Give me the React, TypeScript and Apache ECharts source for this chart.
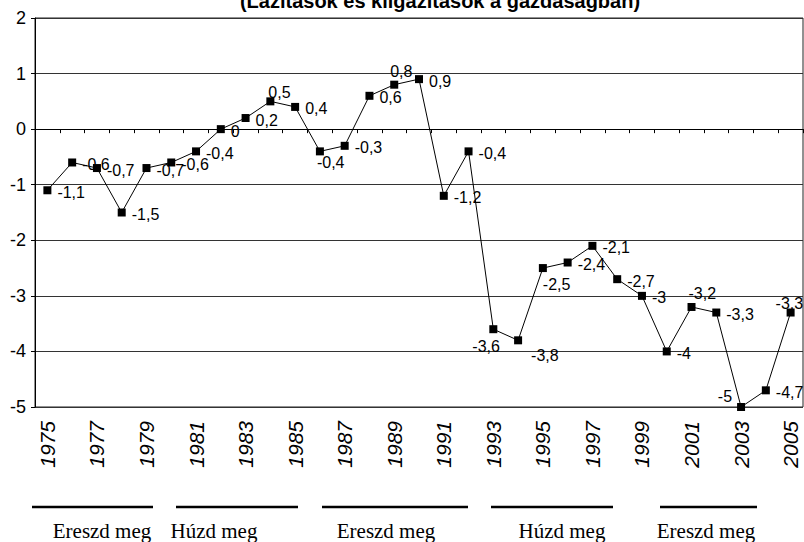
import React, { useEffect, useRef } from "react";
import * as echarts from "echarts";

const years = [
  "1975", "1976", "1977", "1978", "1979", "1980", "1981", "1982", "1983", "1984",
  "1985", "1986", "1987", "1988", "1989", "1990", "1991", "1992", "1993", "1994",
  "1995", "1996", "1997", "1998", "1999", "2000", "2001", "2002", "2003", "2004", "2005",
];
const values = [
  -1.1, -0.6, -0.7, -1.5, -0.7, -0.6, -0.4, 0, 0.2, 0.5,
  0.4, -0.4, -0.3, 0.6, 0.8, 0.9, -1.2, -0.4, -3.6, -3.8,
  -2.5, -2.4, -2.1, -2.7, -3, -4, -3.2, -3.3, -5, -4.7, -3.3,
];
const yMin = -5;
const yMax = 2;
const yStep = 1;
const titleText = "(Lazítások és kiigazítások a gazdaságban)";
const phaseNames = ["Ereszd meg", "Húzd meg", "Ereszd meg", "Húzd meg", "Ereszd meg"];

// label placement tweaks (style only)
const labelTweaks: Record<number, { position?: string; offset: number[] }> = {
  9: { offset: [-11, -9] },
  11: { offset: [-12, 11] },
  14: { offset: [-13, -13] },
  18: { offset: [-30, 17] },
  19: { offset: [4, 15] },
  20: { offset: [-9, 16] },
  26: { offset: [-12, -13] },
  28: { position: "left", offset: [0, -11] },
  30: { offset: [-24, -9] },
};
// annotation layout (pixels)
const phaseLines = [
  [32, 153], [176, 298], [322, 468], [491, 613], [660, 757],
];
const phaseTextX = [102, 214, 386, 562, 706];

export default function App() {
  const ref = useRef<HTMLDivElement>(null);
  useEffect(() => {
    if (!ref.current) return;
    const chart = echarts.init(ref.current, null, { renderer: "svg" });
    const data = values.map((v, i) => {
      const t = labelTweaks[i];
      if (!t) return v;
      return {
        value: v,
        label: { position: t.position || "right", offset: t.offset },
      };
    });
    const graphics: any[] = [
      {
        type: "text",
        x: 440,
        y: 1,
        style: {
          text: titleText,
          fontSize: 20,
          fontWeight: "bold",
          fontFamily: "Arial, 'Liberation Sans'",
          fill: "#000",
          align: "center",
          verticalAlign: "middle",
        },
      },
    ];
    phaseLines.forEach((p, i) => {
      graphics.push({
        type: "line",
        shape: { x1: p[0], y1: 507, x2: p[1], y2: 507 },
        style: { stroke: "#000", lineWidth: 2.5 },
      });
      graphics.push({
        type: "text",
        x: phaseTextX[i],
        y: 531,
        style: {
          text: phaseNames[i],
          fontSize: 21,
          fontFamily: "'Liberation Serif', 'Times New Roman', serif",
          fill: "#000",
          align: "center",
          verticalAlign: "middle",
        },
      });
    });
    chart.setOption({
      animation: false,
      backgroundColor: "#fff",
      grid: {
        left: 35,
        right: 1,
        top: 18,
        bottom: 135,
        show: true,
        borderColor: "#222",
        borderWidth: 1,
      },
      xAxis: {
        type: "category",
        data: years,
        boundaryGap: true,
        axisLine: { show: true, lineStyle: { color: "#000", width: 1 } },
        axisTick: { show: true, interval: 0, length: 4, lineStyle: { color: "#000" } },
        axisLabel: {
          interval: 1,
          rotate: 90,
          fontSize: 21,
          fontStyle: "italic",
          fontFamily: "Arial, 'Liberation Sans'",
          color: "#000",
          margin: 14,
        },
        splitLine: { show: false },
      },
      yAxis: {
        type: "value",
        min: yMin,
        max: yMax,
        interval: yStep,
        axisLine: { show: true, lineStyle: { color: "#000", width: 1 } },
        axisTick: { show: true, length: 4, lineStyle: { color: "#000" } },
        axisLabel: {
          fontSize: 18,
          fontFamily: "Arial, 'Liberation Sans'",
          color: "#000",
          margin: 9,
        },
        splitLine: { show: true, lineStyle: { color: "#333", width: 1 } },
      },
      series: [
        {
          type: "line",
          data,
          symbol: "rect",
          symbolSize: 8,
          lineStyle: { color: "#000", width: 1 },
          itemStyle: { color: "#000" },
          label: {
            show: true,
            position: "right",
            offset: [1, 2],
            distance: 5,
            fontSize: 16,
            fontFamily: "Arial, 'Liberation Sans'",
            color: "#000",
            formatter: (p: any) => String(p.value).replace(".", ","),
          },
        },
      ],
      graphic: graphics,
    });
    return () => chart.dispose();
  }, []);
  return (
    <div
      ref={ref}
      style={{ position: "fixed", left: 0, top: 0, width: 804, height: 542, background: "#fff" }}
    />
  );
}
